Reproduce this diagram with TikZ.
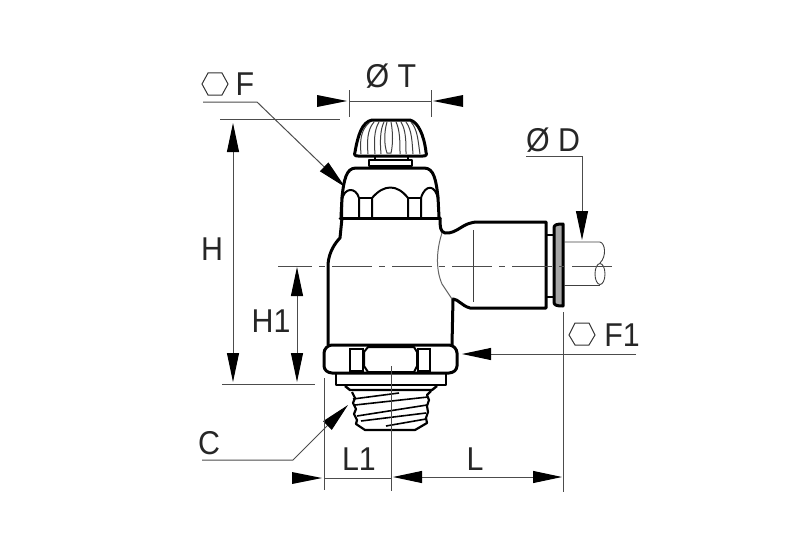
\documentclass[tikz,border=0pt]{standalone}
\usepackage{fontspec}
\setmainfont{Liberation Sans}
\usetikzlibrary{arrows.meta}
\definecolor{thinc}{gray}{0.3}
\tikzset{
  x=1pt,y=-1pt,
  body/.style={draw=black,line width=3pt,line join=round,line cap=round},
  mid/.style={draw=black,line width=2pt,line join=round},
  fine/.style={draw=black!75,line width=0.8pt},
  dim/.style={draw=thinc,line width=1pt},
  tip/.style={-{Triangle[black,length=29pt,width=12pt,sep=0pt]}},
  label/.style={font=\fontsize{33}{33}\selectfont,text=black!85,inner sep=0pt,xscale=0.92},
}
\begin{document}
\begin{tikzpicture}
\useasboundingbox (0,0) rectangle (787,551);
% knob
\draw[body,fill=white] (355,152) .. controls (358,135) and (362,122) .. (372,120) -- (410,120) .. controls (418,122) and (424,135) .. (426,152) .. controls (427,155) and (426,156) .. (423,156) -- (358,156) .. controls (355,156) and (354,155) .. (355,152) -- cycle;
\foreach \a/\b/\c in {360/370/361,367/374/368,374/379/375,380/384/381,400/396/400,406/401/406,412/406/413,418/411/420}{
  \draw[fine,line width=1pt] (\b,122) .. controls (\a,130) and (\a,142) .. (\c,154);
}
\draw[fine,line width=1pt] (387,122) .. controls (384,132) and (384,145) .. (387,153) -- (391,153) .. controls (393,145) and (393,132) .. (391,122);
\draw[mid] (369,160) -- (369,166) -- (412,166) -- (412,160) -- cycle;
\draw[mid] (375,156) -- (375,160) (408,156) -- (408,160);
% cap
\draw[body] (341,217) -- (342,197) .. controls (344,180) and (346,168) .. (356,168) -- (424,168) .. controls (434,168) and (436,180) .. (438,197) -- (439,217);
\draw[mid] (342,217) -- (342,200) .. controls (344,187) and (356,187) .. (359,198) -- (359,217);
\draw[mid] (372,217) -- (372,198) .. controls (384,184) and (397,184) .. (408,198) -- (408,217);
\draw[mid] (421,217) -- (421,198) .. controls (425,184) and (436,184) .. (438,200);
\draw[mid] (359,198) -- (372,198) (408,198) -- (421,198);
\draw[body] (340,218) -- (440,218);
% body
\draw[body] (342,218) -- (340,238) .. controls (335,243) and (329,252) .. (328,264) -- (328,345);
\draw[body] (440,218) .. controls (440,226) and (440,232) .. (445,233) .. controls (458,234) and (462,222) .. (478,222) -- (546,222) -- (546,308) -- (470,308) .. controls (462,306) and (458,299) .. (453,299) -- (452,345);
\draw[fine,draw=black!60,line width=1pt] (442,233) .. controls (437,248) and (435,268) .. (442,284) -- (452,299);
\draw[fine] (473,230) -- (473,302);
% connector
\draw[mid,line width=2.4pt] (546,235) -- (553,235) (546,297) -- (553,297);
\draw[body,fill=black!35] (554,228) .. controls (554,225) and (556,224) .. (563,224) -- (563,306) .. controls (556,306) and (554,305) .. (554,302) -- cycle;
% tube
\draw[fine,line width=0.9pt] (564,242) -- (600,242) .. controls (605,243) and (607,256) .. (600,263);
\draw[fine,line width=0.9pt] (564,285) -- (600,285);
\draw[fine,line width=0.9pt] (600,274) ellipse [x radius=5,y radius=10.5];
% bottom nut
\draw[body,fill=white,rounded corners=3pt] (329,345) -- (452,345) -- (457,350) -- (457,369) -- (452,373) -- (329,373) -- (324,369) -- (324,350) -- cycle;
\draw[mid] (350,348) -- (350,372) (363,348) -- (363,372) (418,348) -- (418,372) (430,348) -- (430,372);
\draw[mid] (350,349) -- (363,349) (418,349) -- (430,349) (350,371) -- (363,371) (418,371) -- (430,371);
\draw[mid] (364,352) -- (368,347) -- (414,347) -- (417,352) (364,366) -- (368,372) -- (414,372) -- (417,366) (364,352) -- (364,366) (417,352) -- (417,366);
\draw[mid,line width=2.4pt] (336,374) -- (336,385) -- (446,385) -- (446,374);
% thread
\draw[mid,line width=2.4pt] (345,386) -- (350,390) -- (432,390) -- (437,386);
\draw[mid,line width=2.2pt] (352,392) -- (355,398) -- (353,403) -- (356,409) -- (354,414) -- (357,420) -- (356,424) -- (365,430) -- (415,430) -- (427,423) -- (426,418) -- (428,412) -- (427,406) -- (429,400) -- (427,395) -- (431,391);
\draw[mid,line width=1.6pt] (353,399) -- (399,393) (355,405) -- (428,397) (357,416) -- (427,405) (361,421) -- (426,413) (386,426) -- (426,419);
% centre line
\draw[dim,draw=black!70,line width=1pt,dash pattern=on 40pt off 7pt on 6pt off 7pt,dash phase=6pt] (278,266) -- (612,266);
% extension lines
\coordinate (Ha) at (220,119); \coordinate (Hb) at (340,119);
\coordinate (Lb) at (222,384); \coordinate (Lc) at (315,384);
\draw[dim] (Ha) -- (Hb) (Lb) -- (Lc);
\coordinate (Tl) at (349,90); \coordinate (Tlb) at (349,117);
\coordinate (Tr) at (431,90); \coordinate (Trb) at (431,117);
\draw[dim] (Tl) -- (Tlb) (Tr) -- (Trb);
% H
\coordinate (H1) at (233,123); \coordinate (H2) at (233,382);
\draw[dim,tip] (233,250) -- (H1);
\draw[dim,tip] (233,250) -- (H2);
% H1
\draw[dim,tip] (297,320) -- (297,267);
\draw[dim,tip] (297,320) -- (297,382);
% T
\draw[dim] (349,101) -- (431,101);
\fill (317,95) -- (347,101) -- (317,107) -- cycle;
\fill (463,95) -- (433,101) -- (463,107) -- cycle;
% F
\coordinate (Fa) at (203,102); \coordinate (Fb) at (257,102); \coordinate (Ft) at (345,187);
\draw[dim,tip] (Fa) -- (Fb) -- (Ft);
% D
\coordinate (Da) at (526,156); \coordinate (Db) at (582,156); \coordinate (Dt) at (582,240);
\draw[dim,tip] (Da) -- (Db) -- (Dt);
% F1
\coordinate (Fa1) at (636,354); \coordinate (Ft1) at (462,354);
\draw[dim,tip] (Fa1) -- (Ft1);
% C
\coordinate (Ca) at (202,460); \coordinate (Cb) at (293,460); \coordinate (Ct) at (348,405);
\draw[dim,tip] (Ca) -- (Cb) -- (Ct);
% L
\draw[dim] (324,378) -- (324,490) (391,366) -- (391,491) (563,312) -- (563,492);
\draw[dim] (324,478) -- (391,478);
\fill (292,472) -- (322,478) -- (292,484) -- cycle;
\draw[dim,tip] (480,477) -- (562,477);
\draw[dim,tip] (480,477) -- (393,477);
% hexagons
\draw[fine,line width=1pt,draw=black!80] (202,84) -- (208,73) -- (222,73) -- (228,84) -- (222,95) -- (208,95) -- cycle;
\draw[fine,line width=1pt,draw=black!80] (569,335) -- (575,323) -- (589,323) -- (595,335) -- (589,345) -- (575,345) -- cycle;
% labels
\node[label] (lT) at (391,76) {Ø T};
\node[label] (lF) at (245,84) {F};
\node[label] (lD) at (553,140) {Ø D};
\node[label] (lF1) at (622,335) {F1};
\node[label] (lH) at (212,249) {H};
\node[label] (lH1) at (271,321) {H1};
\node[label] (lC) at (209,443) {C};
\node[label] (lL1) at (359,459) {L1};
\node[label] (lL) at (475,459) {L};
\end{tikzpicture}
\end{document}
